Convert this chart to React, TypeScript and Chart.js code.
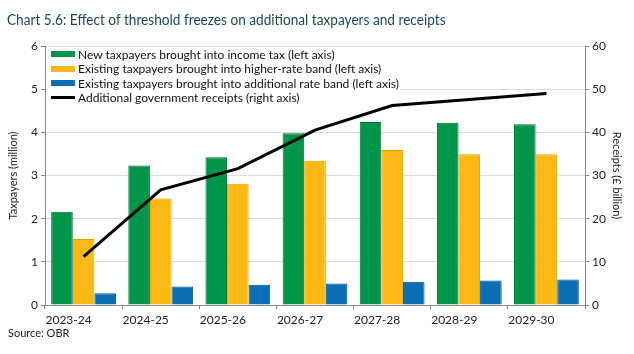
import React, { useEffect, useRef } from "react";
import { Chart, registerables } from "chart.js";

Chart.register(...registerables);

const categories = ["2023-24", "2024-25", "2025-26", "2026-27", "2027-28", "2028-29", "2029-30"];
const newTaxpayers = [2.16, 3.23, 3.42, 3.98, 4.24, 4.22, 4.19];
const higherRate = [1.53, 2.47, 2.81, 3.34, 3.59, 3.49, 3.49];
const additionalRate = [0.27, 0.43, 0.47, 0.5, 0.54, 0.57, 0.59];
const receipts = [11.2, 26.7, 31.6, 40.5, 46.2, 47.6, 49.0];

const seriesLabels = [
  "New taxpayers brought into income tax (left axis)",
  "Existing taxpayers brought into higher-rate band (left axis)",
  "Existing taxpayers brought into additional rate band (left axis)",
  "Additional government receipts (right axis)",
];
const colors = ["#00954A", "#FDB913", "#0B6EB5", "#000000"];
const borders = ["#006d36", "#e2a200", "#0a528a", "#000000"];

const FONT = "Lato, 'Open Sans', sans-serif";

const legendBg = {
  id: "legendBg",
  beforeDatasetsDraw(chart: any) {
    const ctx = chart.ctx;
    ctx.save();
    ctx.fillStyle = "#ffffff";
    ctx.fillRect(48, 48, 352, 55);
    ctx.restore();
  },
};

export default function App() {
  const ref = useRef<HTMLCanvasElement | null>(null);
  useEffect(() => {
    if (!ref.current) return;
    const chart = new Chart(ref.current, {
      type: "bar",
      data: {
        labels: categories,
        datasets: [
          { type: "line", label: seriesLabels[3], data: receipts, yAxisID: "y1", borderColor: colors[3], backgroundColor: colors[3], borderWidth: 3, pointRadius: 0, tension: 0, order: 0 },
          { type: "bar", label: seriesLabels[0], data: newTaxpayers, yAxisID: "y", backgroundColor: colors[0], borderColor: borders[0], borderWidth: 1, order: 1, categoryPercentage: 0.84, barPercentage: 1 },
          { type: "bar", label: seriesLabels[1], data: higherRate, yAxisID: "y", backgroundColor: colors[1], borderColor: borders[1], borderWidth: 1, order: 1, categoryPercentage: 0.84, barPercentage: 1 },
          { type: "bar", label: seriesLabels[2], data: additionalRate, yAxisID: "y", backgroundColor: colors[2], borderColor: borders[2], borderWidth: 1, order: 1, categoryPercentage: 0.84, barPercentage: 1 },
        ] as any,
      },
      options: {
        animation: false,
        responsive: false,
        layout: { padding: { top: 46, left: 0, right: 0, bottom: 0 } },
        plugins: { legend: { display: false }, tooltip: { enabled: false } },
        scales: {
          x: {
            grid: { drawOnChartArea: false, drawTicks: true, tickLength: 4, tickColor: "#888", offset: true },
            border: { color: "#888" },
            ticks: { color: "#222", font: { family: FONT, size: 12 }, labelOffset: -15, padding: 4, maxRotation: 0 },
            afterFit: (s: any) => { s.height = 49; },
          },
          y: {
            position: "left",
            min: 0, max: 6,
            ticks: { stepSize: 1, color: "#222", font: { family: FONT, size: 12 }, padding: 3 },
            grid: { color: "#dcdcdc", tickColor: "#888", tickLength: 4 },
            border: { color: "#888" },
            title: { display: true, text: "Taxpayers (million)", color: "#222", font: { family: FONT, size: 11 }, padding: { top: 7, bottom: 0 } },
            afterFit: (s: any) => { s.width = 45; },
          },
          y1: {
            position: "right",
            min: 0, max: 60,
            ticks: { stepSize: 10, color: "#222", font: { family: FONT, size: 12 }, padding: 3 },
            grid: { drawOnChartArea: false, tickColor: "#888", tickLength: 4 },
            border: { color: "#888" },
            title: { display: true, text: "Receipts (£ billion)", color: "#222", font: { family: FONT, size: 11 }, padding: { top: 11, bottom: 0 } },
            afterFit: (s: any) => { s.width = 49; },
          },
        },
      },
      plugins: [legendBg],
    });
    return () => chart.destroy();
  }, []);

  return (
    <div style={{ position: "fixed", left: 0, top: 0, width: 634, height: 354, background: "#fff", overflow: "hidden", fontFamily: FONT }}>
      <canvas ref={ref} width={634} height={354} style={{ position: "absolute", left: 0, top: 0, width: 634, height: 354 }} />
      <div style={{ position: "absolute", left: 7, top: 9, fontSize: 15.5, color: "#1d4b4b", whiteSpace: "nowrap", lineHeight: "20px", transform: "scaleX(0.88)", transformOrigin: "left center" }}>
        Chart 5.6: Effect of threshold freezes on additional taxpayers and receipts
      </div>
      <div style={{ position: "absolute", left: 48, top: 47, width: 360, height: 57 }}>
        {seriesLabels.map((l, i) => (
          <div key={i} style={{ position: "absolute", left: 3, top: i * 14.4, height: 14.4, display: "flex", alignItems: "center", whiteSpace: "nowrap", fontSize: 12, color: "#111" }}>
            <span style={{ display: "inline-block", width: 24, height: i === 3 ? 3 : 6, background: colors[i], marginRight: 3 }} />
            <span>{l}</span>
          </div>
        ))}
      </div>
      <div style={{ position: "absolute", left: 8, top: 326, fontSize: 11, color: "#222", whiteSpace: "nowrap" }}>Source: OBR</div>
    </div>
  );
}
